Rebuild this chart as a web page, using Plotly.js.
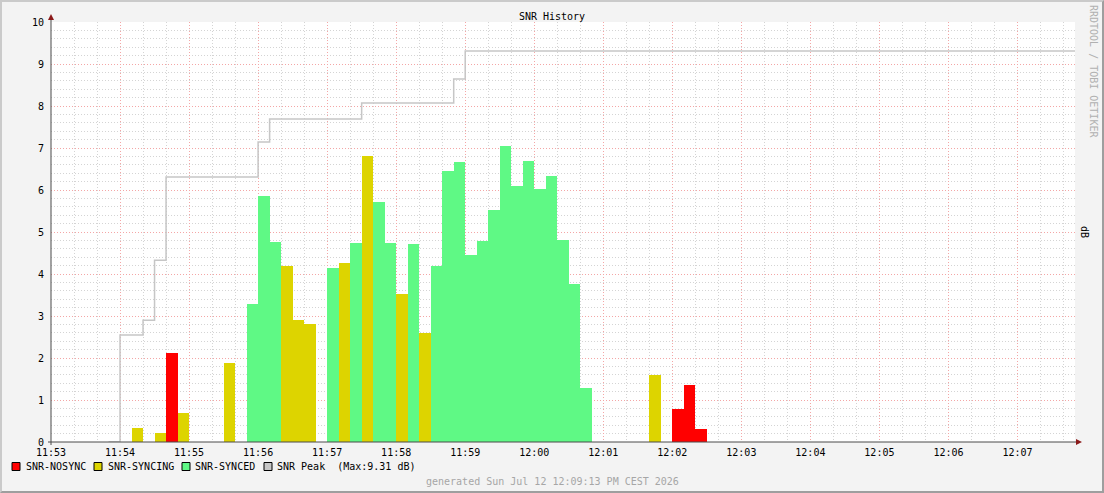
<!DOCTYPE html>
<html><head><meta charset="utf-8">
<script src="https://cdn.plot.ly/plotly-3.0.1.min.js"></script>
<style>
html,body{margin:0;padding:0;background:#f3f3f3;}
#wrap{position:relative;width:1104px;height:493px;overflow:hidden;}
#chart{position:absolute;left:0;top:0;width:1104px;height:493px;}
#frame{position:absolute;left:0;top:0;width:1104px;height:493px;box-sizing:border-box;border-top:2px solid #cacaca;border-left:2px solid #cacaca;border-right:2px solid #9e9e9e;border-bottom:2px solid #9e9e9e;pointer-events:none;}
</style></head>
<body><div id="wrap"><div id="chart"></div><div id="frame"></div></div>
<script>
// ---- data ----
const day = '2026-07-12 ';
const chartTitle = 'SNR History';
const unitLabel = 'dB';
const creditText = 'RRDTOOL / TOBI OETIKER';
const generatedText = 'generated Sun Jul 12 12:09:13 PM CEST 2026';
const rangeStart = '11:53:00';
const rangeEnd = '12:07:50';
const binSeconds = 10;

const seriesNames = ['SNR-NOSYNC', 'SNR-SYNCING', 'SNR-SYNCED', 'SNR Peak'];

const nosyncTimes = ['11:54:40', '12:02:00', '12:02:10', '12:02:20'];
const nosyncValues = [2.12, 0.79, 1.36, 0.31];

const syncingTimes = ['11:54:10', '11:54:30', '11:54:50', '11:55:30', '11:56:20', '11:56:30', '11:56:40',
  '11:57:10', '11:57:30', '11:58:00', '11:58:20', '12:01:40'];
const syncingValues = [0.33, 0.21, 0.69, 1.88, 4.19, 2.90, 2.81, 4.26, 6.81, 3.52, 2.60, 1.60];

const syncedTimes = ['11:55:50', '11:56:00', '11:56:10', '11:57:00', '11:57:20', '11:57:40', '11:57:50',
  '11:58:10', '11:58:30', '11:58:40', '11:58:50', '11:59:00', '11:59:10', '11:59:20', '11:59:30',
  '11:59:40', '11:59:50', '12:00:00', '12:00:10', '12:00:20', '12:00:30', '12:00:40'];
const syncedValues = [3.29, 5.86, 4.76, 4.14, 4.74, 5.71, 4.74, 4.71, 4.19, 6.45, 6.67, 4.45, 4.79,
  5.52, 7.05, 6.10, 6.69, 6.02, 6.33, 4.81, 3.76, 1.29];

const peakTimes = ['11:53:50', '11:54:00', '11:54:20', '11:54:30', '11:54:40', '11:56:00', '11:56:10',
  '11:57:30', '11:58:50', '11:59:00', '12:07:50'];
const peakValues = [0, 2.55, 2.90, 4.33, 6.31, 7.14, 7.69, 8.07, 8.64, 9.31, 9.31];

// ---- styling ----
const FONT = 'DejaVu Sans Mono, monospace';
const colors = ['#ff0000', '#ddd400', '#5ff985', '#c6c6c6'];
const W = 1104, H = 493, ML = 51, MR = 29, MT = 22, MB = 51;
const PW = W - ML - MR, PH = H - MT - MB;
const px = x => (x - ML) / PW;
const py = y => (H - MB - y) / PH;
const T = t => day + t;

function barTrace(times, values, color) {
  return {
    type: 'bar', x: times.map(T), y: values,
    width: binSeconds * 1000, offset: 0,
    marker: {color: color, line: {width: 0}},
    hoverinfo: 'skip', showlegend: false
  };
}

const traces = [
  barTrace(nosyncTimes, nosyncValues, colors[0]),
  barTrace(syncingTimes, syncingValues, colors[1]),
  barTrace(syncedTimes, syncedValues, colors[2]),
  {
    type: 'scatter', mode: 'lines', x: peakTimes.map(T), y: peakValues,
    line: {shape: 'hv', color: colors[3], width: 1.5},
    hoverinfo: 'skip', showlegend: false, cliponaxis: true
  }
];

const majorGrid = '#f4a6a6';
const minorGrid = '#d4d4d4';
const dash = '1px,2px';

const peakMax = Math.max(...peakValues).toFixed(2);
const legendLabels = [seriesNames[0], seriesNames[1], seriesNames[2],
  seriesNames[3] + '&nbsp;&nbsp;(Max:' + peakMax + ' ' + unitLabel + ')'];
const legendBoxX = [12, 94, 182, 264];
const legendTextX = [24, 106, 193, 275];

const shapes = [];
const annotations = [];
legendLabels.forEach((lab, i) => {
  shapes.push({type: 'rect', xref: 'paper', yref: 'paper',
    x0: px(legendBoxX[i]), x1: px(legendBoxX[i] + 8), y0: py(462.5), y1: py(470.5),
    fillcolor: colors[i], line: {color: '#000', width: 1}, layer: 'above'});
  annotations.push({xref: 'paper', yref: 'paper', x: px(legendTextX[i]), y: py(466.5),
    xanchor: 'left', yanchor: 'middle', showarrow: false, text: lab,
    font: {family: FONT, size: 10, color: '#000'}});
});

// axes lines and arrows
const axisColor = '#4a4a4a', arrowColor = '#8b1a1a';
shapes.push({type: 'line', xref: 'paper', yref: 'paper', x0: px(48), x1: px(1077), y0: 0, y1: 0,
  line: {color: axisColor, width: 1}, layer: 'above'});
shapes.push({type: 'line', xref: 'paper', yref: 'paper', x0: 0, x1: 0, y0: py(445), y1: py(18),
  line: {color: axisColor, width: 1}, layer: 'above'});
shapes.push({type: 'path', xref: 'paper', yref: 'paper',
  path: `M ${px(1076)} ${py(439)} L ${px(1082)} ${py(442)} L ${px(1076)} ${py(445)} Z`,
  fillcolor: arrowColor, line: {width: 0}, layer: 'above'});
shapes.push({type: 'path', xref: 'paper', yref: 'paper',
  path: `M ${px(48)} ${py(20)} L ${px(51)} ${py(14)} L ${px(54)} ${py(20)} Z`,
  fillcolor: arrowColor, line: {width: 0}, layer: 'above'});

annotations.push({xref: 'paper', yref: 'paper', x: px(1085), y: py(232), textangle: 90,
  xanchor: 'center', yanchor: 'middle',
  showarrow: false, text: unitLabel, font: {family: FONT, size: 10, color: '#000'}});
annotations.push({xref: 'paper', yref: 'paper', x: px(1094), y: py(71), textangle: 90,
  xanchor: 'center', yanchor: 'middle',
  showarrow: false, text: creditText, font: {family: FONT, size: 10, color: '#b0b0b0'}});
annotations.push({xref: 'paper', yref: 'paper', x: px(552), y: py(481),
  xanchor: 'center', yanchor: 'middle',
  showarrow: false, text: generatedText, font: {family: FONT, size: 10, color: '#a6a6a6'}});

const layout = {
  width: W, height: H,
  margin: {l: ML, r: MR, t: MT, b: MB, pad: 0},
  paper_bgcolor: '#f3f3f3', plot_bgcolor: '#ffffff',
  font: {family: FONT, size: 10, color: '#000'},
  title: {text: chartTitle, font: {family: FONT, size: 10, color: '#000'},
    x: 0.5, xref: 'container', xanchor: 'center', y: 1 - 16 / H, yref: 'container', yanchor: 'middle'},
  barmode: 'overlay', bargap: 0,
  showlegend: false,
  xaxis: {
    type: 'date', range: [T(rangeStart), T(rangeEnd)],
    tick0: T(rangeStart), dtick: 60000, tickformat: '%H:%M',
    showgrid: true, gridcolor: majorGrid, griddash: dash, gridwidth: 1,
    minor: {dtick: 20000, tick0: T(rangeStart), showgrid: true, gridcolor: minorGrid, griddash: dash, ticks: ''},
    zeroline: false, showline: false, ticks: '', ticklabelstandoff: 3,
    tickfont: {family: FONT, size: 10, color: '#000'}, fixedrange: true
  },
  yaxis: {
    range: [0, 10], tick0: 0, dtick: 1,
    showgrid: true, gridcolor: majorGrid, griddash: dash, gridwidth: 1,
    minor: {dtick: 0.2, tick0: 0, showgrid: true, gridcolor: minorGrid, griddash: dash, ticks: ''},
    zeroline: false, showline: false, ticks: '', ticklabelstandoff: 6,
    tickfont: {family: FONT, size: 10, color: '#000'}, fixedrange: true
  },
  shapes: shapes,
  annotations: annotations
};

Plotly.newPlot('chart', traces, layout, {staticPlot: true, displayModeBar: false});
</script>
</body></html>
